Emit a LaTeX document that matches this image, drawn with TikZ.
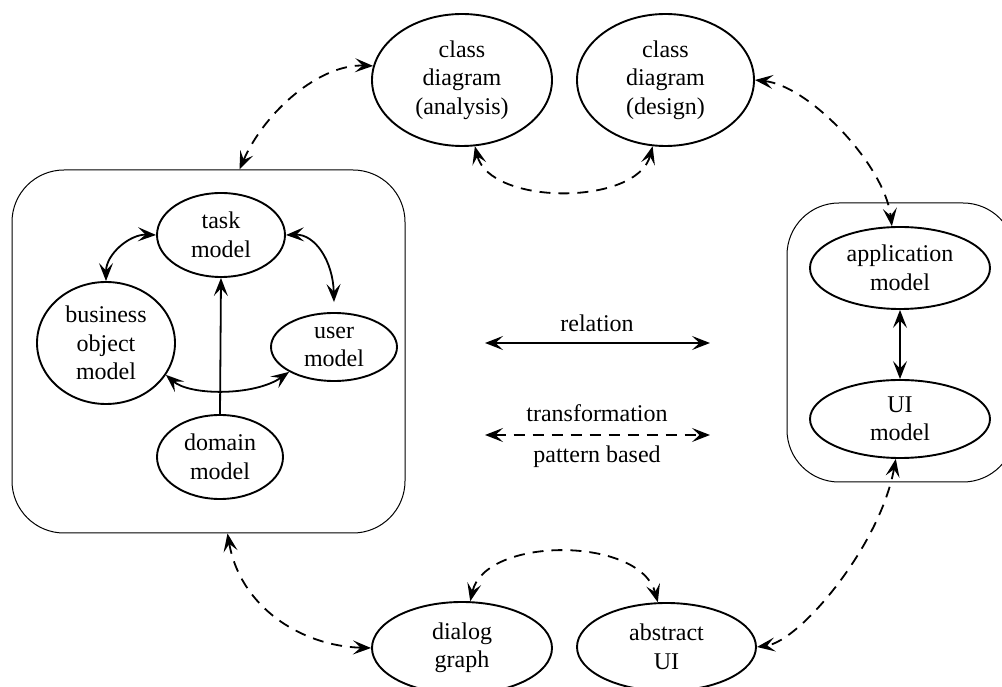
\documentclass[tikz,border=0pt]{standalone}
\usepackage{fontspec}
\setmainfont{Liberation Serif}
\usetikzlibrary{arrows.meta,shapes.geometric}
\begin{document}
\begin{tikzpicture}[x=1pt,y=1pt,
  every node/.style={font=\fontsize{24}{28.5}\selectfont},
  ell/.style={draw, ellipse, line width=1.9pt, inner sep=0pt, align=center},
  grp/.style={draw, line width=1pt, rounded corners=52pt, inner sep=0pt},
  tipA/.tip={Stealth[length=18pt,width=14pt,inset=7.5pt]},
  rel/.style={line width=1.8pt, tipA-tipA},
  single/.style={line width=1.8pt, -tipA},
  trans/.style={rel, dash pattern=on 11pt off 8pt},
  lbl/.style={inner sep=0pt}]
\useasboundingbox (0,0) rectangle (1002,686);
% groups
\node[grp, minimum width=393pt, minimum height=363pt] (leftbox) at (208.5,334.5) {};
\node[grp, minimum width=228pt, minimum height=279pt] (rightbox) at (901,343.5) {};
% top ellipses
\node[ell, minimum width=180pt, minimum height=132pt] (analysis) at (462,606) {class\\diagram\\(analysis)};
\node[ell, minimum width=177pt, minimum height=132pt] (design) at (665.5,606) {class\\diagram\\(design)};
% left group
\node[ell, minimum width=128pt, minimum height=84pt] (task) at (221,451) {task\\model};
\node[ell, minimum width=138pt, minimum height=122pt] (business) at (106,343) {business\\object\\model};
\node[ell, minimum width=126pt, minimum height=68pt] (user) at (334,339) {user\\model};
\node[ell, minimum width=126pt, minimum height=84pt] (domain) at (220,229) {domain\\model};
% right group
\node[ell, minimum width=180pt, minimum height=82pt] (app) at (900,418) {application\\model};
\node[ell, minimum width=180pt, minimum height=78pt] (ui) at (900,267) {UI\\model};
% bottom
\node[ell, minimum width=180pt, minimum height=92pt] (dialog) at (462,38) {dialog\\graph};
\node[ell, minimum width=179pt, minimum height=88pt] (abstract) at (666.5,39) {abstract\\UI};
% legend
\node[lbl] (lrel) at (597,363) {relation};
\node[lbl] (ltrans) at (597,273) {transformation};
\node[lbl] (lpat) at (597,229) {pattern based};
\coordinate (relL) at (485,343);
\coordinate (relR) at (710,343);
\coordinate (trL) at (485,251);
\coordinate (trR) at (710,251);
\draw[rel] (relL) -- (relR);
\draw[trans] (trL) -- (trR);
% relations inside groups
\draw[rel] (task.west) .. controls (130,452) and (106,432) .. (business.north);
\draw[rel] (task.east) .. controls (315,452) and (333,425) .. ([yshift=10pt]user.north);
\draw[single] (domain.north) -- (task.south);
\draw[rel] (business.-28) .. controls (190,290) and (255,290) .. (user.-151);
\draw[rel] (app.south) -- (ui.north);
% transformations
\draw[trans] ([xshift=228pt]leftbox.north west) .. controls (265,575) and (320,622) .. (analysis.171);
\draw[trans] (analysis.-79) .. controls (490,480) and (637,480) .. (design.-101);
\draw[trans] (design.east) .. controls (810,600) and (885,520) .. (app.101);
\draw[trans] (ui.-96) .. controls (880,140) and (800,45) .. (abstract.east);
\draw[trans] (dialog.80) .. controls (485,150) and (640,150) .. (abstract.101);
\draw[trans] ([xshift=216pt]leftbox.south west) .. controls (240,80) and (300,40) .. (dialog.west);
\end{tikzpicture}
\end{document}
